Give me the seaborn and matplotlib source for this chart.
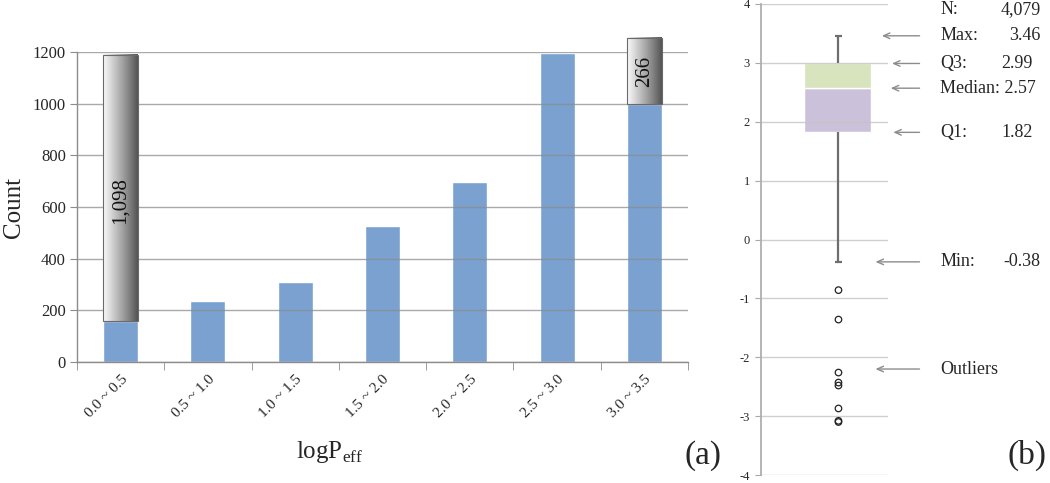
import numpy as np
import matplotlib
matplotlib.use('Agg')
import matplotlib.pyplot as plt
import matplotlib.transforms as mtransforms
from matplotlib.patches import Rectangle
import seaborn as sns

# Histogram of logPeff bins (panel a)
bins = ['0.0 ~ 0.5', '0.5 ~ 1.0', '1.0 ~ 1.5', '1.5 ~ 2.0', '2.0 ~ 2.5', '2.5 ~ 3.0', '3.0 ~ 3.5']
counts = [160, 235, 308, 525, 695, 1195, 997]

# broken-bar overflow boxes
break_bins = [0, 6]
break_tops = [1190, 1255]
break_labels = ['1,098', '266']

# Box plot summary (panel b)
n_label = '4,079'
q1, median, q3 = 1.82, 2.57, 2.99
whisker_min, whisker_max = -0.38, 3.46
outliers = [-0.86, -1.36, -2.26, -2.43, -2.48, -2.87, -3.08, -3.10]
stat_names = ['Max:', 'Q3:', 'Median: 2.57', 'Q1:', 'Min:', 'Outliers']
stat_values = ['3.46', '2.99', '', '1.82', '-0.38', '']
stat_y = [3.46, 2.99, 2.57, 1.82, -0.38, -2.2]

sns.set_style('white')
plt.rcParams['font.family'] = ['Liberation Serif', 'DejaVu Serif']
plt.rcParams['mathtext.fontset'] = 'custom'
plt.rcParams['mathtext.rm'] = 'Liberation Serif'
plt.rcParams['axes.unicode_minus'] = False

fig = plt.figure(figsize=(10.5, 4.83), dpi=100)
W, H = 1050, 483

# ---------- panel (a)
ax = fig.add_axes([77 / W, 1 - 362 / H, 611 / W, 310 / H])
sns.barplot(x=bins, y=counts, color='#7aa1cf', saturation=1, width=0.4, ax=ax, zorder=2)
ax.set_xlim(-0.5, 6.5)
ax.set_ylim(0, 1200)
ax.set_yticks(range(0, 1201, 200))
ax.yaxis.grid(True, color='#8c8c8c', lw=1)
ax.set_axisbelow(False)
for l in ax.get_ygridlines():
    l.set_zorder(2.5)
    l.set_alpha(0.75)
for s in ['top', 'right']:
    ax.spines[s].set_visible(False)
for s in ['left', 'bottom']:
    ax.spines[s].set_color('#8c8c8c')
    ax.spines[s].set_linewidth(1)
ax.tick_params(axis='y', length=5, color='#8c8c8c', labelsize=12, pad=3, left=True)
ax.set_xticks(range(len(bins)))
ax.set_xticklabels(bins, rotation=45, ha='right', rotation_mode='anchor', fontsize=11)
ax.tick_params(axis='x', which='major', length=0, pad=8)
ax.set_xticks(np.arange(-0.5, 7, 1), minor=True)
ax.tick_params(axis='x', which='minor', length=6, color='#8c8c8c', direction='out', bottom=True)
ax.set_xlabel('')
ax.set_ylabel('Count', fontsize=18)
ax.yaxis.set_label_coords(-(77 - 25) / 611, 0.5)

grad = np.linspace(0.97, 0.25, 64) ** 0.8
grad = grad[np.newaxis, :]
for i, top, lab in zip(break_bins, break_tops, break_labels):
    x0, x1 = i - 0.2, i + 0.2
    im = ax.imshow(grad, extent=(x0, x1, counts[i], top), cmap='gray', vmin=0, vmax=1,
                   aspect='auto', zorder=4, interpolation='bilinear')
    im.set_clip_on(False)
    ax.add_patch(Rectangle((x0, counts[i]), 0.4, top - counts[i], fill=False,
                           ec='#6a6a6a', lw=0.8, zorder=5, clip_on=False))
    ax.text(i, (counts[i] + top) / 2 - (50 if i == 0 else 0), lab, rotation=90,
            ha='center', va='center', fontsize=15, color='#111111', zorder=6)
ax.set_xlim(-0.5, 6.5)
ax.set_ylim(0, 1200)

fig.text(330 / W, 1 - 452 / H, r'logP$_{\mathrm{eff}}$', fontsize=18, ha='center', va='center')
fig.text(703 / W, 1 - 456 / H, '(a)', fontsize=24, ha='center', va='center')

# ---------- panel (b)
bx = fig.add_axes([761 / W, 8 / H, 127 / W, 471 / H])
bx.set_xlim(0, 1)
bx.set_ylim(-4, 4)
bx.set_yticks(range(-4, 5))
bx.yaxis.grid(True, color='#c4c4c4', lw=1)
bx.set_axisbelow(False)
for l in bx.get_ygridlines():
    l.set_zorder(2.5)
    l.set_alpha(0.8)
for s in ['top', 'right', 'bottom']:
    bx.spines[s].set_visible(False)
bx.spines['left'].set_color('#a8a8a8')
bx.spines['left'].set_linewidth(1.2)
bx.set_xticks([])
bx.tick_params(axis='y', length=4, color='#a8a8a8', labelsize=9, pad=4, left=True)

xc, bw = 0.6, 0.53
bx.bar(xc, median - q1, bottom=q1, width=bw, color='#ccc1da', zorder=2)
bx.bar(xc, q3 - median, bottom=median, width=bw, color='#d7e4bd', zorder=2)
wc = '#6e6e6e'
bx.vlines(0.61, q3, whisker_max, color=wc, lw=1.6, zorder=3)
bx.vlines(0.61, whisker_min, q1, color=wc, lw=1.6, zorder=3)
bx.hlines([whisker_max, whisker_min], 0.585, 0.635, color=wc, lw=1.6, zorder=3)
sns.scatterplot(x=[0.61] * len(outliers), y=outliers, marker='o', s=22,
                facecolor='none', edgecolor='#222222', linewidth=0.9, ax=bx, zorder=4)
bx.set_xlim(0, 1)
bx.set_ylim(-4, 4)

trans = mtransforms.blended_transform_factory(bx.transAxes, bx.transData)
tips = [0.93, 1.01, 1.0, 1.02, 0.88, 0.88]
for name, val, y, tip in zip(stat_names, stat_values, stat_y, tips):
    bx.annotate('', xy=(tip, y), xytext=(1.27, y), xycoords=trans, textcoords=trans,
                arrowprops=dict(arrowstyle='->,head_length=0.45,head_width=0.2',
                                color='#8c8c8c', lw=1), annotation_clip=False)
    bx.text(1.41, y, name, transform=trans, ha='left', va='center', fontsize=13, clip_on=False)
    if val:
        xr = 2.14 if name in ('Q3:', 'Q1:') else 2.2
        bx.text(xr, y, val, transform=trans, ha='right', va='center', fontsize=13, clip_on=False)
bx.text(1.41, 3.9, 'N:', transform=trans, ha='left', va='center', fontsize=13, clip_on=False)
bx.text(2.2, 3.9, n_label, transform=trans, ha='right', va='center', fontsize=13, clip_on=False)

fig.text(1027 / W, 1 - 455 / H, '(b)', fontsize=24, ha='center', va='center')

fig.savefig('out.png', dpi=100)
